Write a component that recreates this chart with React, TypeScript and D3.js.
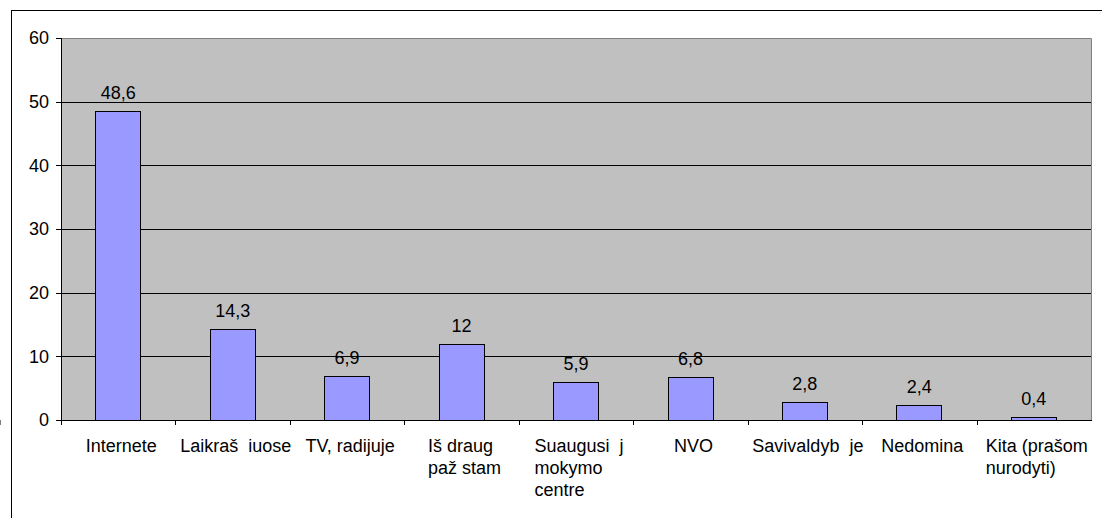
import React, { useEffect, useRef } from 'react';
import * as d3 from 'd3';

const categories = [
  ['Internete'],
  ['Laikraš  iuose'],
  ['TV, radijuje'],
  ['Iš draug', 'paž stam'],
  ['Suaugusi  j', 'mokymo', 'centre'],
  ['NVO'],
  ['Savivaldyb  je'],
  ['Nedomina'],
  ['Kita (prašom', 'nurodyti)'],
];
const values = [48.6, 14.3, 6.9, 12, 5.9, 6.8, 2.8, 2.4, 0.4];
const yTicks = [0, 10, 20, 30, 40, 50, 60];

const W = 1102;
const H = 518;
const FONT = '"Liberation Sans", Arial, sans-serif';

export default function App() {
  const ref = useRef<SVGSVGElement>(null);

  useEffect(() => {
    const svg = d3.select(ref.current);
    svg.selectAll('*').remove();

    const left = 61, right = 1091, top = 38, bottom = 420;
    const ids = categories.map((_, i) => String(i));

    const x = d3.scaleBand().domain(ids).range([left, right]).paddingInner(0.6).paddingOuter(0.3);
    const y = d3.scaleLinear().domain([0, 60]).range([bottom, top]);
    const step = x.step();
    const edge = (i: number) => (x(String(i)) as number) - step * 0.3;

    // outer chart border
    svg.append('rect')
      .attr('x', 11.5).attr('y', 10.5)
      .attr('width', W).attr('height', H)
      .attr('fill', 'white').attr('stroke', 'black');

    // plot area
    svg.append('rect')
      .attr('x', left).attr('y', top)
      .attr('width', right - left).attr('height', bottom - top)
      .attr('fill', '#c0c0c0');

    svg.append('g').selectAll('line')
      .data(yTicks.filter(t => t > 0 && t < 60))
      .enter().append('line')
      .attr('x1', left).attr('x2', right)
      .attr('y1', d => Math.round(y(d)) + 0.5).attr('y2', d => Math.round(y(d)) + 0.5)
      .attr('stroke', 'black');

    // grey plot border top & right
    svg.append('path')
      .attr('d', `M${left},${top + 0.5}H${right + 0.5}V${bottom}`)
      .attr('fill', 'none').attr('stroke', '#808080');

    // bars
    svg.append('g').selectAll('rect')
      .data(values)
      .enter().append('rect')
      .attr('x', (_, i) => Math.round(x(String(i)) as number) + 0.5)
      .attr('y', d => Math.round(y(d)) + 0.5)
      .attr('width', Math.round(x.bandwidth()) - 1)
      .attr('height', d => Math.round(y(0)) - Math.round(y(d)))
      .attr('fill', '#9999ff').attr('stroke', 'black');

    // value labels
    svg.append('g').selectAll('text')
      .data(values)
      .enter().append('text')
      .attr('x', (_, i) => (x(String(i)) as number) + x.bandwidth() / 2)
      .attr('y', d => y(d) - 12)
      .attr('text-anchor', 'middle')
      .attr('font-family', FONT).attr('font-size', 18)
      .text(d => String(d).replace('.', ','));

    // y axis
    const ya = svg.append('g');
    ya.append('line')
      .attr('x1', left + 0.5).attr('x2', left + 0.5)
      .attr('y1', top).attr('y2', bottom + 0.5)
      .attr('stroke', 'black');
    ya.selectAll('line.tick').data(yTicks).enter().append('line')
      .attr('class', 'tick')
      .attr('x1', left - 5).attr('x2', left)
      .attr('y1', d => Math.round(y(d)) + 0.5).attr('y2', d => Math.round(y(d)) + 0.5)
      .attr('stroke', 'black');
    ya.selectAll('text.lbl').data(yTicks).enter().append('text')
      .attr('class', 'lbl')
      .attr('x', 49).attr('y', d => y(d))
      .attr('dy', '0.36em')
      .attr('text-anchor', 'end')
      .attr('font-family', FONT).attr('font-size', 18)
      .text(d => d);

    // x axis
    const xa = svg.append('g');
    xa.append('line')
      .attr('x1', left).attr('x2', right + 1)
      .attr('y1', bottom + 0.5).attr('y2', bottom + 0.5)
      .attr('stroke', 'black');
    xa.selectAll('line.tick').data(d3.range(categories.length + 1)).enter().append('line')
      .attr('class', 'tick')
      .attr('x1', i => Math.round(edge(i)) + 0.5).attr('x2', i => Math.round(edge(i)) + 0.5)
      .attr('y1', bottom).attr('y2', bottom + 5)
      .attr('stroke', 'black');

    categories.forEach((lines, i) => {
      const cx = (x(String(i)) as number) + x.bandwidth() / 2;
      const t = xa.append('text')
        .attr('font-family', FONT).attr('font-size', 18)
        .style('white-space', 'pre');
      lines.forEach((ln, j) => {
        t.append('tspan').attr('y', 452 + j * 22).text(ln);
      });
      let maxW = 0;
      t.selectAll<SVGTSpanElement, unknown>('tspan').each(function () {
        maxW = Math.max(maxW, this.getComputedTextLength());
      });
      t.selectAll('tspan').attr('x', cx - maxW / 2 + 3);
    });
  }, []);

  return (
    <svg ref={ref} width={W} height={H}
      style={{ position: 'absolute', left: 0, top: 0, display: 'block', overflow: 'hidden' }} />
  );
}
